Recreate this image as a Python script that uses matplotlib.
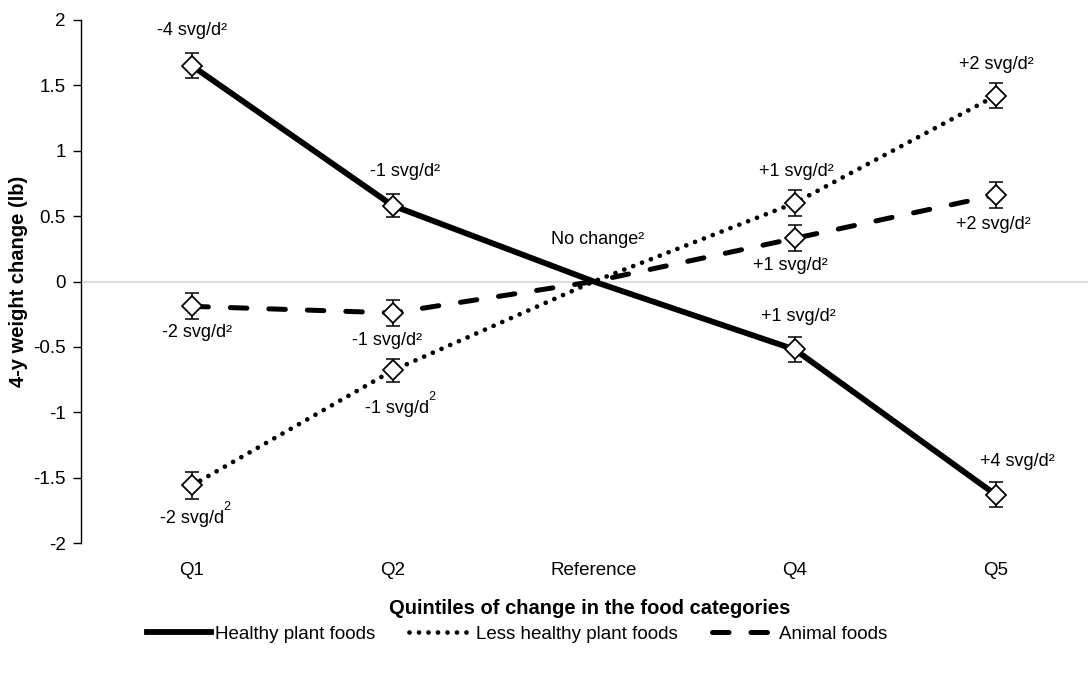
import numpy as np
import matplotlib.pyplot as plt
from matplotlib.lines import Line2D

plt.rcParams['font.family'] = ['Liberation Sans', 'DejaVu Sans']

# quintile categories (middle one is the reference group)
categories = ['Q1', 'Q2', 'Reference', 'Q4', 'Q5']

healthy = [1.65, 0.58, 0.0, -0.52, -1.63]
healthy_err = [0.095, 0.09, 0.0, 0.095, 0.095]
healthy_txt = ['-4 svg/d²', '-1 svg/d²', '', '+1 svg/d²', '+4 svg/d²']

less_healthy = [-1.56, -0.68, 0.0, 0.60, 1.42]
less_healthy_err = [0.1, 0.09, 0.0, 0.1, 0.095]
less_healthy_txt = ['-2 svg/d', '-1 svg/d', '', '+1 svg/d²', '+2 svg/d²']

animal = [-0.19, -0.24, 0.0, 0.33, 0.66]
animal_err = [0.1, 0.1, 0.0, 0.1, 0.1]
animal_txt = ['-2 svg/d²', '-1 svg/d²', '', '+1 svg/d²', '+2 svg/d²']

# label offsets in pixels (dx, dy)
healthy_off = [(0, 35), (12, 34), None, (4, 33), (22, 33)]
less_healthy_off = [(0, -33), (4, -38), None, (2, 32), (1, 31)]
animal_off = [(5, -26), (-6, -28), None, (-4, -27), (-2, -29)]

x = np.arange(len(categories))
pts = np.array([c != 'Reference' for c in categories])

DOT = (0, (0.01, 2.0))
DASH = (0, (3.3, 4.4))

fig = plt.figure(figsize=(10.91, 6.73), dpi=100)
ax = fig.add_axes([81/1091, 1-543/673, (1088-81)/1091, (543-20)/673])

ax.axhline(0, color='#d9d9d9', lw=1.3, zorder=0)

ax.plot(x, healthy, color='black', lw=4.2, solid_capstyle='round', zorder=2)
ax.plot(x, less_healthy, color='black', lw=3.4, linestyle=DOT,
        dash_capstyle='round', zorder=2)
ax.plot(x, animal, color='black', lw=3.6, linestyle=DASH,
        dash_capstyle='round', zorder=2)

for ys, es in [(healthy, healthy_err), (less_healthy, less_healthy_err), (animal, animal_err)]:
    ys = np.array(ys)
    es = np.array(es)
    ax.errorbar(x[pts], ys[pts], yerr=es[pts], fmt='none', ecolor='black',
                elinewidth=1.1, capsize=5, capthick=1.1, zorder=3)
    ax.plot(x[pts], ys[pts], 'D', mfc='white', mec='black', mew=1.3, ms=10, zorder=4)

def put_labels(ys, txts, offs, raised=False):
    for xi, yi, t, o in zip(x, ys, txts, offs):
        if o is None:
            continue
        ax.annotate(t, (xi, yi), xytext=o, textcoords='offset pixels',
                    ha='center', va='center', fontsize=13)
        if raised and not t.endswith('²'):
            # superscript sits a bit high on these two
            ax.annotate('2', (xi, yi), xytext=(o[0] + 35, o[1] + 11),
                        textcoords='offset pixels', ha='center', va='center', fontsize=9)

put_labels(healthy, healthy_txt, healthy_off)
put_labels(less_healthy, less_healthy_txt, less_healthy_off, raised=True)
put_labels(animal, animal_txt, animal_off)
ax.annotate('No change²', (2, 0), xytext=(4, 42), textcoords='offset pixels',
            ha='center', va='center', fontsize=13)

ax.set_xlim(-0.552, 4.46)
ax.set_ylim(-2, 2)
ax.set_yticks(np.arange(-2, 2.01, 0.5))
ax.set_yticklabels(['-2', '-1.5', '-1', '-0.5', '0', '0.5', '1', '1.5', '2'])
ax.set_xticks(x)
ax.set_xticklabels(categories)
ax.tick_params(axis='x', length=0, pad=14, labelsize=13.5)
ax.tick_params(axis='y', direction='out', length=6, width=1, pad=5, labelsize=13.5)
for s in ['top', 'right', 'bottom']:
    ax.spines[s].set_visible(False)
ax.spines['left'].set_linewidth(1)

ax.set_ylabel('4-y weight change (lb)', fontsize=14.5, fontweight='bold')
ax.yaxis.set_label_coords(-0.053, 0.5)
fig.text(590/1091, 1-608/673, 'Quintiles of change in the food categories',
         ha='center', va='center', fontsize=14.5, fontweight='bold')

handles = [Line2D([], [], color='black', lw=4.2),
           Line2D([], [], color='black', lw=3.4, linestyle=DOT, dash_capstyle='round'),
           Line2D([], [], color='black', lw=3.6, linestyle=DASH, dash_capstyle='round')]
fig.legend(handles, ['Healthy plant foods', 'Less healthy plant foods', 'Animal foods'],
           loc='center', bbox_to_anchor=(0.474, 1-634/673), ncol=3, frameon=False,
           fontsize=13.5, handlelength=3.4, handletextpad=0.2, columnspacing=1.8)

fig.savefig('out.png', dpi=100)
